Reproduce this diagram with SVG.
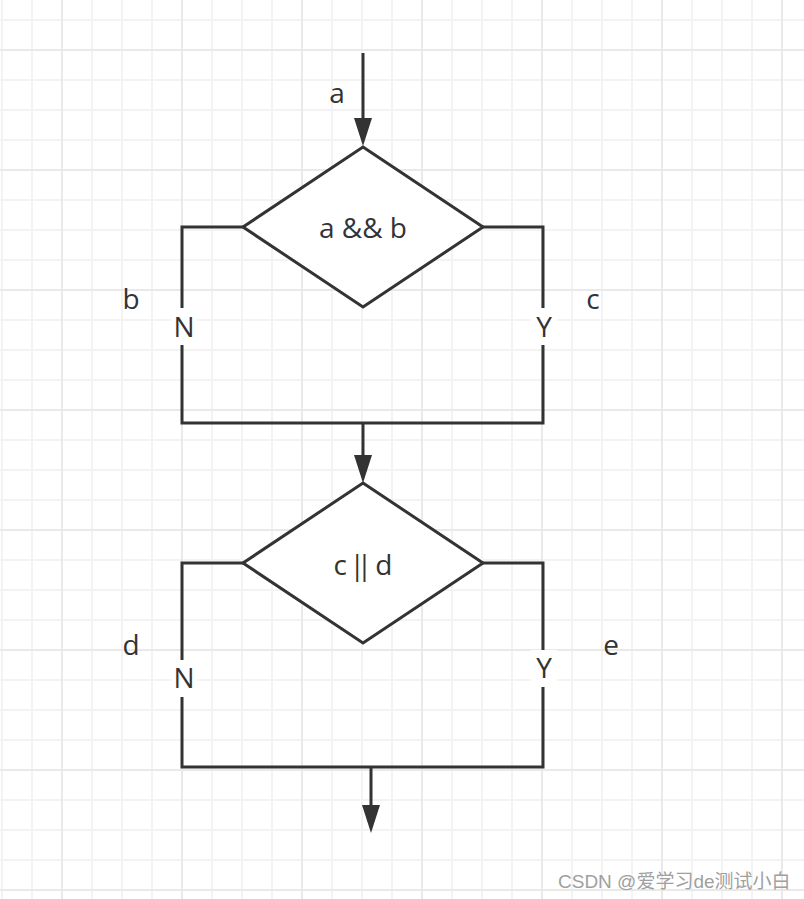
<svg xmlns="http://www.w3.org/2000/svg" width="804" height="899" viewBox="0 0 804 899">
  <style>
    .gthin { stroke: #f3f3f3; stroke-width: 2; fill: none; }
    .gthick { stroke: #e9e9e9; stroke-width: 2; fill: none; }
    .shape { fill: #ffffff; stroke: #333333; stroke-width: 3; }
    .conn { fill: none; stroke: #333333; stroke-width: 3; }
    .lbl { font-family: "Open Sans", "Noto Sans", sans-serif; font-size: 28px; fill: #333333; text-anchor: middle; }
    .lbls { font-family: "Open Sans", "Noto Sans", sans-serif; font-size: 28px; fill: #333333; }
    .mask { fill: #ffffff; stroke: none; }
    .wm { font-family: "Liberation Sans", "Noto Sans CJK SC", sans-serif; font-size: 19px; fill: #a0a0a0; }
  </style>
  <defs>
    <marker id="arrow" markerUnits="userSpaceOnUse" viewBox="0 0 28 18" refX="0" refY="9" markerWidth="28" markerHeight="18" orient="auto">
      <path d="M0,0 L28,9 L0,18 z" fill="#333333"/>
    </marker>
  </defs>
  <rect x="0" y="0" width="804" height="899" fill="#ffffff"/>
  <g id="grid">
    <path class="gthin" d="M2,0V899 M32,0V899 M92,0V899 M122,0V899 M152,0V899 M212,0V899 M242,0V899 M272,0V899 M332,0V899 M362,0V899 M392,0V899 M452,0V899 M482,0V899 M512,0V899 M572,0V899 M602,0V899 M632,0V899 M692,0V899 M722,0V899 M752,0V899 M0,20H804 M0,80H804 M0,110H804 M0,140H804 M0,200H804 M0,230H804 M0,260H804 M0,320H804 M0,350H804 M0,380H804 M0,440H804 M0,470H804 M0,500H804 M0,560H804 M0,590H804 M0,620H804 M0,680H804 M0,710H804 M0,740H804 M0,800H804 M0,830H804 M0,860H804"/>
    <path class="gthick" d="M62,0V899 M182,0V899 M302,0V899 M422,0V899 M542,0V899 M662,0V899 M782,0V899 M0,50H804 M0,170H804 M0,290H804 M0,410H804 M0,530H804 M0,650H804 M0,770H804 M0,890H804"/>
  </g>
  <g id="connectors">
    <line class="conn" x1="363" y1="53" x2="363" y2="118" marker-end="url(#arrow)"/>
    <polyline class="conn" points="243,227 182,227 182,423 543,423 543,227 483,227"/>
    <line class="conn" x1="363" y1="423" x2="363" y2="455" marker-end="url(#arrow)"/>
    <polyline class="conn" points="243,563 182,563 182,767 543,767 543,563 483,563"/>
    <line class="conn" x1="371" y1="767" x2="371" y2="805" marker-end="url(#arrow)"/>
    <rect class="mask" x="171" y="308" width="26" height="37"/>
    <text class="lbl" x="184" y="337">N</text>
    <rect class="mask" x="531" y="308" width="26" height="37"/>
    <text class="lbl" x="544" y="337">Y</text>
    <rect class="mask" x="171" y="660" width="26" height="37"/>
    <text class="lbl" x="184" y="688">N</text>
    <rect class="mask" x="531" y="650" width="26" height="37"/>
    <text class="lbl" x="544" y="678">Y</text>
    <text class="lbl" x="337" y="103">a</text>
    <text class="lbl" x="131" y="309">b</text>
    <text class="lbl" x="593" y="309">c</text>
    <text class="lbl" x="131" y="655">d</text>
    <text class="lbl" x="611" y="655">e</text>
  </g>
  <g id="node-and">
    <polygon class="shape" points="363,147 483,227 363,307 243,227"/>
    <text class="lbl" x="363" y="238">a &amp;&amp; b</text>
  </g>
  <g id="node-or">
    <polygon class="shape" points="363,483 483,563 363,643 243,563"/>
    <text class="lbls" x="333.5" y="575" dx="0 0 -4.7 -8.1 0 -4.3">c || d</text>
  </g>
  <text class="wm" x="558" y="888">CSDN @爱学习de测试小白</text>
</svg>
